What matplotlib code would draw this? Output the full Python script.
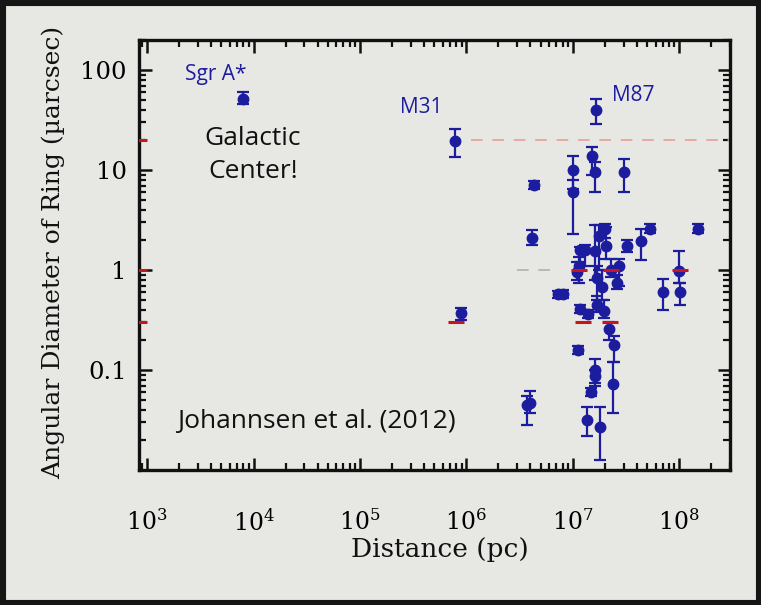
import matplotlib.pyplot as plt
from matplotlib.patches import Rectangle
from matplotlib.ticker import FixedFormatter, FixedLocator, LogLocator, NullFormatter

plt.rcParams["font.family"] = "DejaVu Serif"
plt.rcParams["mathtext.fontset"] = "dejavuserif"

# distance (pc), ring diameter (micro-arcsec) and the ends of each error bar
distance = [8.0e3, 7.8e5, 1.64e7, 8.9e5, 4.3e6, 4.1e6, 3.7e6, 3.95e6, 7.2e6, 8.0e6,
            1.0e7, 1.0e7, 1.51e7, 1.6e7, 3.0e7, 5.3e7, 1.5e8, 4.35e7, 3.2e7, 2.0e7,
            1.75e7, 2.05e7, 1.16e7, 1.3e7, 1.6e7, 1.14e7, 2.7e7, 1.0e8, 7.0e7, 1.01e8,
            1.68e7, 1.87e7, 2.6e7, 1.16e7, 1.38e7, 1.68e7, 1.95e7, 2.18e7, 2.43e7, 1.11e7,
            1.61e7, 1.6e7, 1.47e7, 2.38e7, 1.35e7, 1.8e7, 2.3e7, 1.1e7]
diameter = [52, 19.5, 40, 0.37, 7.1, 2.1, 0.045, 0.047, 0.57, 0.57,
            10, 6.0, 13.8, 9.5, 9.5, 2.6, 2.6, 1.95, 1.75, 2.6,
            2.2, 1.75, 1.6, 1.6, 1.55, 1.1, 1.1, 0.98, 0.6, 0.6,
            0.83, 0.68, 0.75, 0.41, 0.36, 0.45, 0.39, 0.26, 0.18, 0.16,
            0.10, 0.088, 0.06, 0.072, 0.032, 0.027, 1.0, 0.95]
diameter_lo = [46, 13.5, 29, 0.32, 6.4, 1.8, 0.028, 0.037, 0.53, 0.52,
               6.5, 2.3, 9, 6, 6.1, 2.35, 2.35, 1.25, 1.5, 2.1,
               1.0, 1.3, 1.2, 1.1, 0.8, 0.75, 0.7, 0.75, 0.4, 0.45,
               0.5, 0.5, 0.65, 0.37, 0.33, 0.38, 0.33, 0.2, 0.12, 0.145,
               0.075, 0.07, 0.055, 0.037, 0.022, 0.0125, 0.85, 0.8]
diameter_hi = [60, 26, 52, 0.42, 7.8, 2.5, 0.055, 0.062, 0.62, 0.63,
               14, 8, 17, 12, 13, 2.9, 2.9, 2.6, 2.0, 2.9,
               2.8, 2.7, 1.7, 1.8, 2.8, 1.35, 1.3, 1.55, 0.82, 0.75,
               1.1, 1.0, 0.9, 0.45, 0.4, 0.55, 0.5, 0.3, 0.22, 0.175,
               0.13, 0.1, 0.066, 0.12, 0.043, 0.043, 1.3, 1.2]

# red reference marks
red_distance = [1.15e7, 2.3e7, 1.02e8, 1.25e7, 2.25e7, 8.0e5, 840, 840, 840]
red_diameter = [1.0, 1.0, 1.0, 0.3, 0.3, 0.3, 20, 1.0, 0.3]

x_ticks = [1e3, 1e4, 1e5, 1e6, 1e7, 1e8]
y_ticks = [0.01, 0.1, 1, 10, 100]
y_tick_labels = ["", "0.1", "1", "10", "100"]

blue = "#1c1c9e"
bg = "#e7e7e3"

fig = plt.figure(figsize=(7.61, 6.05), dpi=100, facecolor=bg)
ax = fig.add_axes([0.1827, 0.2231, 0.7766, 0.7107], facecolor=bg)
ax.set_xscale("log")
ax.set_yscale("log")
ax.set_xlim(840, 3.0e8)
ax.set_ylim(0.01, 200)

err = [[d - lo for d, lo in zip(diameter, diameter_lo)],
       [hi - d for d, hi in zip(diameter, diameter_hi)]]
ax.errorbar(distance, diameter, yerr=err, fmt="o", color=blue, ms=7.5,
            elinewidth=1.6, capsize=4.5, capthick=1.6, zorder=3)

ax.plot([1.1e6, 3.0e8], [20, 20], ls=(0, (6, 5)), color="#e8aaa2", lw=1.4, zorder=2)
ax.plot([3.0e6, 7.0e6], [1, 1], ls=(0, (6, 5)), color="#b8b8b4", lw=1.4, zorder=2)
ax.plot(red_distance, red_diameter, ls="none", marker="_", ms=11, mew=2.2,
        color="#c8141e", zorder=4)

ax.text(0.129, 0.919, "Sgr A*", transform=ax.transAxes, ha="center", va="center",
        color=blue, fontsize=15, family="Open Sans")
ax.text(0.477, 0.844, "M31", transform=ax.transAxes, ha="center", va="center",
        color=blue, fontsize=15, family="Open Sans")
ax.text(0.836, 0.872, "M87", transform=ax.transAxes, ha="center", va="center",
        color=blue, fontsize=15, family="Open Sans")
ax.text(0.193, 0.772, "Galactic", transform=ax.transAxes, ha="center", va="center",
        color="#111111", fontsize=19, family="Open Sans")
ax.text(0.193, 0.694, "Center!", transform=ax.transAxes, ha="center", va="center",
        color="#111111", fontsize=19, family="Open Sans")
ax.text(0.30, 0.114, "Johannsen et al. (2012)", transform=ax.transAxes, ha="center",
        va="center", color="#111111", fontsize=19, family="Open Sans")

ax.xaxis.set_major_locator(FixedLocator(x_ticks))
ax.xaxis.set_minor_locator(LogLocator(base=10, subs=range(2, 10)))
ax.xaxis.set_minor_formatter(NullFormatter())
ax.yaxis.set_major_locator(FixedLocator(y_ticks))
ax.yaxis.set_major_formatter(FixedFormatter(y_tick_labels))
ax.yaxis.set_minor_locator(LogLocator(base=10, subs=range(2, 10)))
ax.yaxis.set_minor_formatter(NullFormatter())

ax.tick_params(which="both", direction="in", top=True, right=True, color="#111111")
ax.tick_params(which="major", length=9, width=1.8)
ax.tick_params(which="minor", length=5, width=1.6)
ax.tick_params(axis="x", which="major", pad=28, labelsize=17)
ax.tick_params(axis="y", which="major", pad=9, labelsize=17.5)
for spine in ax.spines.values():
    spine.set_linewidth(2.4)
    spine.set_color("#111111")

ax.set_xlabel("Distance (pc)", fontsize=19, color="#111111")
ax.set_ylabel("Angular Diameter of Ring (\u00b5arcsec)", fontsize=18, color="#111111")
ax.xaxis.set_label_coords(0.509, -0.155)
ax.yaxis.set_label_coords(-0.125, 0.507)

fig.patches.append(Rectangle((0, 0), 1, 1, transform=fig.transFigure, fill=False,
                             edgecolor="#151515", lw=8))

fig.savefig("out.png", dpi=100, facecolor=bg)
